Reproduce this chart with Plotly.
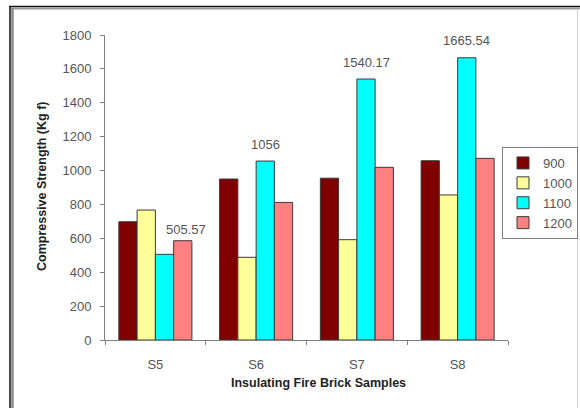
import plotly.graph_objects as go

# Samples and firing temperatures
samples = ["S5", "S6", "S7", "S8"]
temps = ["900", "1000", "1100", "1200"]

# Compressive strength (Kg f) per firing temperature
s900 = [698, 950, 955, 1058]
s1000 = [767, 488, 592, 856]
s1100 = [505.57, 1056, 1540.17, 1665.54]
s1200 = [586, 812, 1019, 1072]

series = [s900, s1000, s1100, s1200]
colors = ["#800000", "#FFFF99", "#00FFFF", "#FF8080"]

W, H = 580, 408
L, R, T, B = 105, 72, 35, 68
PW, PH = W - L - R, H - T - B


def px(x):
    return (x - L) / PW


def py(y):
    return 1 - (y - T) / PH


fig = go.Figure()
for name, vals, col in zip(temps, series, colors):
    fig.add_trace(go.Bar(
        x=samples, y=vals, name=name,
        marker=dict(color=col, line=dict(color="#3a3a3a", width=1)),
    ))

# value labels over the 1100 bars
bar_w = PW / len(samples) * 0.725 / 4
for i, (s, v) in enumerate(zip(samples, s1100)):
    extra = 21 if i == 0 else 0
    ys = 25 if i == 0 else 17
    fig.add_annotation(
        x=s, y=v, text=f"{v:g}", showarrow=False,
        xshift=bar_w * 0.5 + extra, yshift=ys,
        font=dict(size=13, color="#555555"),
    )

# axis titles
title_font = dict(size=12.5, color="#222222")
fig.add_annotation(
    x=px(318), y=py(383), xref="paper", yref="paper",
    xanchor="center", yanchor="middle",
    text="<b>Insulating Fire Brick Samples</b>", showarrow=False,
    font=title_font,
)
fig.add_annotation(
    x=px(42), y=py(187), xref="paper", yref="paper",
    xanchor="center", yanchor="middle",
    text="<b>Compressive Strength (Kg f)</b>", showarrow=False,
    textangle=-90, font=title_font,
)

# outer frame
frame = [
    dict(x0=px(9), x1=px(580), y0=py(6.5), y1=py(6.5), color="#111111", w=1.5),
    dict(x0=px(11), x1=px(580), y0=py(8.5), y1=py(8.5), color="#9a9a9a", w=2),
    dict(x0=px(10), x1=px(10), y0=py(6), y1=py(408), color="#111111", w=1.5),
    dict(x0=px(12.5), x1=px(12.5), y0=py(8), y1=py(408), color="#8a8a8a", w=2.5),
    dict(x0=px(577.5), x1=px(577.5), y0=py(9), y1=py(408), color="#d0d0d0", w=1),
]
for f in frame:
    fig.add_shape(type="line", xref="paper", yref="paper",
                  x0=f["x0"], x1=f["x1"], y0=f["y0"], y1=f["y1"],
                  line=dict(color=f["color"], width=f["w"]), layer="above")

fig.update_layout(
    width=W, height=H,
    margin=dict(l=L, r=R, t=T, b=B, autoexpand=False),
    paper_bgcolor="white", plot_bgcolor="white",
    barmode="group", bargap=0.275, bargroupgap=0,
    font=dict(family="Liberation Sans, Arial, sans-serif", size=13, color="#555555"),
    showlegend=True,
    legend=dict(
        x=px(502), y=py(147), xanchor="left", yanchor="top",
        bordercolor="#808080", borderwidth=1, bgcolor="white",
        font=dict(size=13, color="#555555"),
        itemwidth=30, tracegroupgap=0,
    ),
    xaxis=dict(
        showline=True, linecolor="#808080", linewidth=1,
        ticks="outside", tickson="boundaries", ticklen=4, tickcolor="#808080",
        tickfont=dict(size=13, color="#555555"),
        ticklabelstandoff=12,
        showgrid=False,
    ),
    yaxis=dict(
        range=[0, 1800], dtick=200,
        showline=True, linecolor="#808080", linewidth=1,
        ticks="outside", ticklen=4, tickcolor="#808080",
        tickfont=dict(size=13, color="#555555"),
        ticklabelstandoff=6,
        showgrid=False, zeroline=False,
    ),
)

fig.write_html("out.html")
